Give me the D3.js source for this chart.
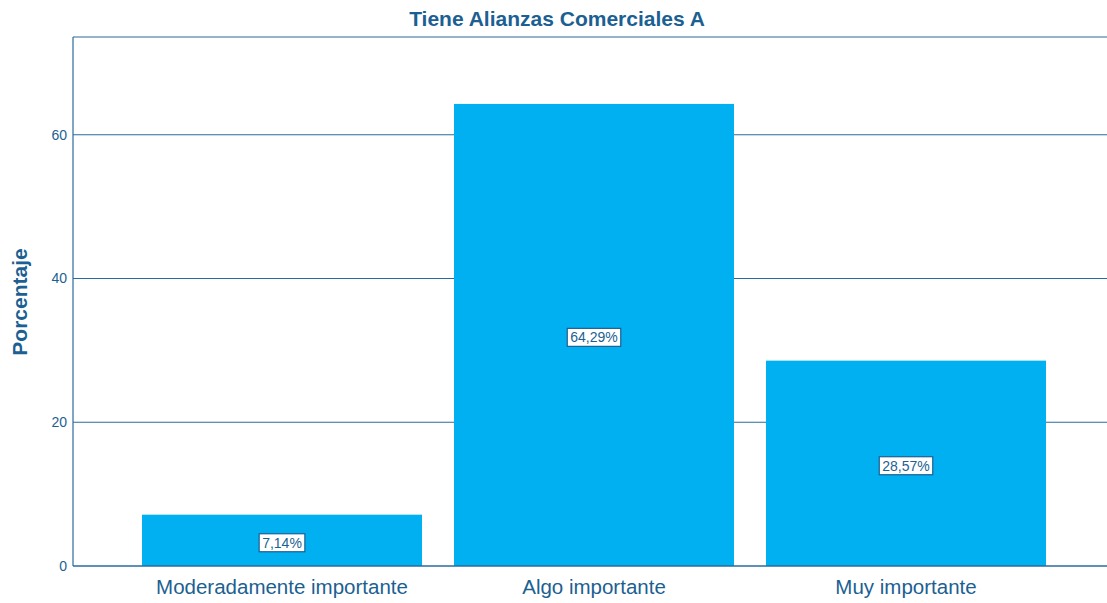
<!DOCTYPE html>
<html><head><meta charset="utf-8">
<script src="https://cdn.jsdelivr.net/npm/d3@7"></script>
<style>body{margin:0;background:#fff}svg{display:block}</style>
</head><body>
<svg id="c" width="1107" height="603"></svg>
<script>
const categories = ["Moderadamente importante","Algo importante","Muy importante"];
const values = [7.14, 64.29, 28.57];
const valueLabels = ["7,14%","64,29%","28,57%"];
const yTicks = [0,20,40,60];
const title = "Tiene Alianzas Comerciales A";
const yTitle = "Porcentaje";

const svg = d3.select("#c");
const lineCol = "#2a6b9c", textCol = "#1c5f92", barCol = "#00b0f0";
const font = "Arial, 'Liberation Sans', sans-serif";
const L = 73, T = 37, B = 566, R = 1107;
const y = d3.scaleLinear().domain([0, 73.6]).range([B, T]);
const x = d3.scaleBand().domain(categories).range([126, 1062]).paddingInner(32/312).paddingOuter(0.0513);

// gridlines
svg.append("g").selectAll("line").data(yTicks.filter(d=>d>0)).join("line")
  .attr("x1", L).attr("x2", R).attr("y1", d=>y(d)).attr("y2", d=>y(d))
  .attr("stroke", lineCol).attr("stroke-width", 1.2);
// top border
svg.append("line").attr("x1", L).attr("x2", R).attr("y1", T).attr("y2", T).attr("stroke", lineCol).attr("stroke-width",1.2);

// bars
svg.append("g").selectAll("rect").data(values).join("rect")
  .attr("x", (d,i)=>x(categories[i])).attr("width", x.bandwidth())
  .attr("y", d=>y(d)).attr("height", d=>B - y(d)).attr("fill", barCol);

// y axis
const yAxis = d3.axisLeft(y).tickValues(yTicks).tickSize(0).tickPadding(6);
const ga = svg.append("g").attr("transform", `translate(${L},0)`).call(yAxis);
ga.select(".domain").remove();
ga.selectAll("text").attr("fill", textCol).style("font-family",font).style("font-size","14px");
svg.append("line").attr("x1", L).attr("x2", L).attr("y1", T).attr("y2", B).attr("stroke", lineCol).attr("stroke-width",1.2);

// x axis
const xAxis = d3.axisBottom(x).tickSize(0).tickPadding(13);
const gx = svg.append("g").attr("transform", `translate(0,${B})`).call(xAxis);
gx.select(".domain").remove();
gx.selectAll("text").attr("fill", textCol).style("font-family",font).style("font-size","20.5px");
svg.append("line").attr("x1", L).attr("x2", R).attr("y1", B).attr("y2", B).attr("stroke", lineCol).attr("stroke-width",1.4);

// value labels
const lg = svg.append("g").selectAll("g").data(values).join("g")
  .attr("transform", (d,i)=>`translate(${x(categories[i]) + x.bandwidth()/2},${(y(d)+B)/2 + 2.5})`);
lg.append("text").text((d,i)=>valueLabels[i]).attr("text-anchor","middle").attr("dy","0.35em")
  .attr("fill", textCol).style("font-family",font).style("font-size","14px")
  .each(function(){
    const bb = this.getBBox();
    d3.select(this.parentNode).insert("rect","text")
      .attr("x", bb.x-3).attr("y", bb.y-1).attr("width", bb.width+6).attr("height", bb.height+2)
      .attr("fill","#fff").attr("stroke", "#1c5f92").attr("stroke-width",1.2);
  });

// titles
svg.append("text").attr("x", 557).attr("y", 26).attr("text-anchor","middle")
  .attr("fill", textCol).style("font-family",font).style("font-size","21px").style("font-weight","bold").text(title);
svg.append("text").attr("transform", "translate(27,302) rotate(-90)").attr("text-anchor","middle")
  .attr("fill", textCol).style("font-family",font).style("font-size","21px").style("font-weight","bold").text(yTitle);
</script>
</body></html>
